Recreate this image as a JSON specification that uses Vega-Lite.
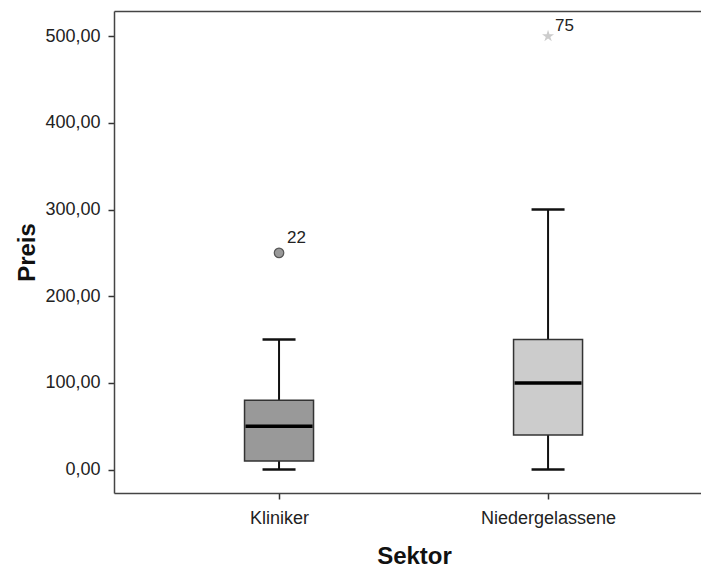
{
  "$schema": "https://vega.github.io/schema/vega-lite/v6.json",
  "width": 587,
  "height": 482,
  "autosize": "none",
  "padding": {"left": 114, "top": 11, "right": 0, "bottom": 74},
  "background": "white",
  "config": {
    "view": {"stroke": null},
    "font": "Liberation Sans",
    "axis": {
      "labelFont": "Liberation Sans",
      "labelFontSize": 18,
      "labelColor": "#222222",
      "titleFont": "Liberation Sans",
      "titleFontWeight": "bold",
      "titleFontSize": 24,
      "titleColor": "#111111",
      "domainColor": "#444444",
      "domainWidth": 1.5,
      "tickColor": "#333333",
      "tickWidth": 1.5,
      "tickSize": 6,
      "grid": false
    }
  },
  "data": {
    "values": [
      {"Sektor": "Kliniker", "min": 0, "q1": 10, "median": 50, "q3": 80, "max": 150},
      {"Sektor": "Niedergelassene", "min": 0, "q1": 40, "median": 100, "q3": 150, "max": 300}
    ]
  },
  "resolve": {"axis": {"x": "independent"}},
  "layer": [
    {
      "mark": {"type": "rule", "stroke": "#111111", "strokeWidth": 2},
      "encoding": {
        "x": {
          "field": "Sektor", "type": "nominal", "sort": ["Kliniker", "Niedergelassene"],
          "scale": {"type": "point", "padding": 0.591, "align": 0.519},
          "axis": {"orient": "bottom", "title": "Sektor", "labelAngle": 0, "labelPadding": 10, "titleX": 300, "titleY": 70, "titleBaseline": "alphabetic"}
        },
        "y": {
          "field": "min", "type": "quantitative",
          "scale": {"domain": [-27, 529], "nice": false, "zero": false},
          "axis": {"title": "Preis", "values": [0, 100, 200, 300, 400, 500], "labelExpr": "replace(format(datum.value, '.2f'), '.', ',')", "labelPadding": 8, "titleX": -87, "titleBaseline": "middle"}
        },
        "y2": {"field": "max"}
      }
    },
    {
      "mark": {"type": "tick", "color": "#111111", "thickness": 2.5, "size": 33, "opacity": 1},
      "encoding": {
        "x": {"field": "Sektor", "type": "nominal", "sort": ["Kliniker", "Niedergelassene"], "axis": {"orient": "top", "title": null, "labels": false, "ticks": false, "domainColor": "#444444", "domainWidth": 1.5}},
        "y": {"field": "min", "type": "quantitative"}
      }
    },
    {
      "mark": {"type": "tick", "color": "#111111", "thickness": 2.5, "size": 33, "opacity": 1},
      "encoding": {
        "x": {"field": "Sektor", "type": "nominal", "sort": ["Kliniker", "Niedergelassene"], "axis": null},
        "y": {"field": "max", "type": "quantitative"}
      }
    },
    {
      "mark": {"type": "bar", "size": 69, "stroke": "#333333", "strokeWidth": 1.5, "opacity": 1},
      "encoding": {
        "x": {"field": "Sektor", "type": "nominal", "sort": ["Kliniker", "Niedergelassene"], "axis": null},
        "y": {"field": "q1", "type": "quantitative"},
        "y2": {"field": "q3"},
        "color": {"field": "Sektor", "type": "nominal", "scale": {"domain": ["Kliniker", "Niedergelassene"], "range": ["#999999", "#cccccc"]}, "legend": null}
      }
    },
    {
      "mark": {"type": "tick", "color": "#000000", "thickness": 3.5, "size": 67, "opacity": 1},
      "encoding": {
        "x": {"field": "Sektor", "type": "nominal", "sort": ["Kliniker", "Niedergelassene"], "axis": null},
        "y": {"field": "median", "type": "quantitative"}
      }
    },
    {
      "data": {"values": [{"Sektor": "Kliniker", "Preis": 250, "Fall": "22"}]},
      "layer": [
        {
          "mark": {"type": "point", "shape": "circle", "filled": true, "fill": "#999999", "stroke": "#555555", "strokeWidth": 1.2, "size": 90, "opacity": 1},
          "encoding": {
            "x": {"field": "Sektor", "type": "nominal", "sort": ["Kliniker", "Niedergelassene"], "axis": null},
            "y": {"field": "Preis", "type": "quantitative"}
          }
        },
        {
          "mark": {"type": "text", "align": "left", "baseline": "alphabetic", "dx": 8, "dy": -10, "fontSize": 17, "font": "Liberation Sans", "color": "#222222"},
          "encoding": {
            "x": {"field": "Sektor", "type": "nominal", "sort": ["Kliniker", "Niedergelassene"], "axis": null},
            "y": {"field": "Preis", "type": "quantitative"},
            "text": {"field": "Fall"}
          }
        }
      ]
    },
    {
      "data": {"values": [{"Sektor": "Niedergelassene", "Preis": 500, "Fall": "75"}]},
      "layer": [
        {
          "mark": {"type": "point", "shape": "M0,-1L0.223,-0.307L0.951,-0.309L0.361,0.117L0.588,0.809L0,0.38L-0.588,0.809L-0.361,0.117L-0.951,-0.309L-0.223,-0.307Z", "filled": true, "fill": "#cccccc", "strokeWidth": 0, "size": 160, "opacity": 1},
          "encoding": {
            "x": {"field": "Sektor", "type": "nominal", "sort": ["Kliniker", "Niedergelassene"], "axis": null},
            "y": {"field": "Preis", "type": "quantitative"}
          }
        },
        {
          "mark": {"type": "text", "align": "left", "baseline": "alphabetic", "dx": 7, "dy": -5, "fontSize": 17, "font": "Liberation Sans", "color": "#222222"},
          "encoding": {
            "x": {"field": "Sektor", "type": "nominal", "sort": ["Kliniker", "Niedergelassene"], "axis": null},
            "y": {"field": "Preis", "type": "quantitative"},
            "text": {"field": "Fall"}
          }
        }
      ]
    }
  ]
}
